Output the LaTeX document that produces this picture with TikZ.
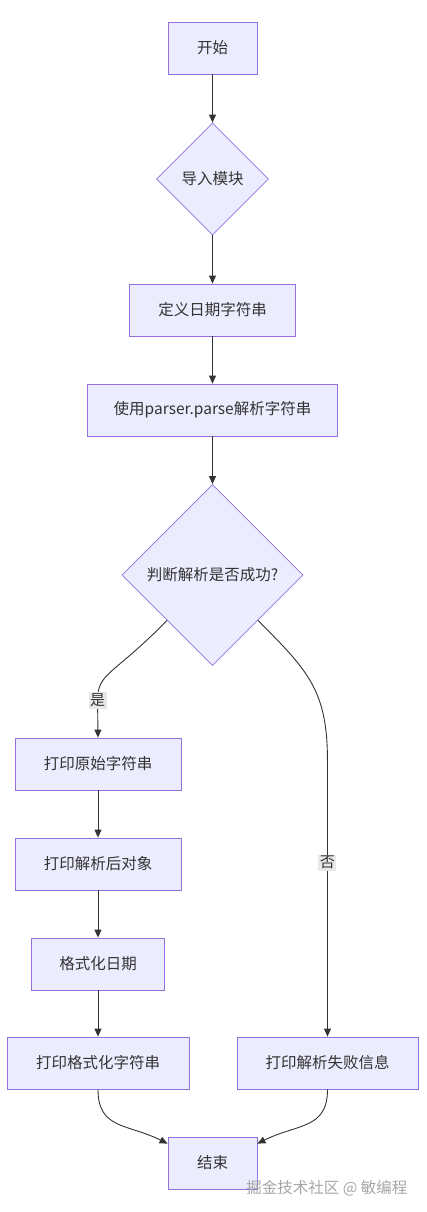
\documentclass[tikz,border=0pt]{standalone}
\usepackage{fontspec}
\setmainfont{Noto Sans CJK SC}
\usepackage{tikz}
\usetikzlibrary{shapes.geometric,arrows.meta}
\definecolor{boxfill}{HTML}{ECECFF}
\definecolor{boxline}{HTML}{9370DB}
\definecolor{edgeline}{HTML}{333333}
\definecolor{lblfill}{HTML}{E8E8E8}
\tikzset{
BOX/.style ={draw=boxline,fill=boxfill,line width=0.8pt,minimum height=52pt,inner sep=0pt,text=edgeline,font=\fontsize{15.5}{18}\selectfont},
DECISION/.style={draw=boxline,fill=boxfill,line width=0.8pt,shape=diamond,inner sep=0pt,text=edgeline,font=\fontsize{15.5}{18}\selectfont},
EDGE/.style ={draw=edgeline,line width=0.9pt,-{Triangle[length=8pt,width=7pt]}},
LABEL/.style={fill=lblfill,inner sep=1.5pt,text=edgeline,font=\fontsize{15}{18}\selectfont},
}
\begin{document}
\begin{tikzpicture}
[x=1pt, y=-1pt]
	\useasboundingbox (0,0) rectangle (426,1212);
	\node[BOX, minimum width=89pt] (start) at (212.5,48) {开始};
	\node[DECISION, minimum width=112pt, minimum height=112pt] (import) at (212.5,179) {导入模块};
	\node[BOX, minimum width=166pt] (define) at (212.5,310) {定义日期字符串};
	\node[BOX, minimum width=250pt] (parse) at (212.5,410) {使用parser.parse解析字符串};
	\node[DECISION, minimum width=181pt, minimum height=181pt] (check) at (212.5,575) {判断解析是否成功?};
	\node[BOX, minimum width=166pt] (raw) at (98,764) {打印原始字符串};
	\node[BOX, minimum width=166pt] (obj) at (98,864) {打印解析后对象};
	\node[BOX, minimum width=133pt] (fmt) at (98,964) {格式化日期};
	\node[BOX, minimum width=182pt] (fmtout) at (98,1063) {打印格式化字符串};
	\node[BOX, minimum width=181pt] (fail) at (327.5,1063) {打印解析失败信息};
	\node[BOX, minimum width=89pt] (stop) at (212.5,1163) {结束};
	\node[text=gray!70, anchor=east, font=\fontsize{15.5}{18}\selectfont] (mark) at (411,1188) {掘金技术社区 @ 敏编程};
	\path[EDGE] (start) -- (import);
	\path[EDGE] (import) -- (define);
	\path[EDGE] (define) -- (parse);
	\path[EDGE] (parse) -- (check);
	\path[EDGE] (check.south west) .. controls +(-55,56) and +(0,-28) .. ++(-69.5,80) node[LABEL] {是} -- (raw.north);
	\path[EDGE] (check.south east) .. controls +(50,50) and +(0,-70) .. ++(69.5,140) -- node[LABEL,pos=0.37] {否} (fail.north);
	\path[EDGE] (raw) -- (obj);
	\path[EDGE] (obj) -- (fmt);
	\path[EDGE] (fmt) -- (fmtout);
	\path[EDGE] (fmtout.south) .. controls +(0,40) and +(-40,-20) .. ([yshift=-7pt]stop.north west);
	\path[EDGE] (fail.south) .. controls +(0,40) and +(40,-20) .. ([yshift=-7pt]stop.north east);
\end{tikzpicture}
\end{document}
